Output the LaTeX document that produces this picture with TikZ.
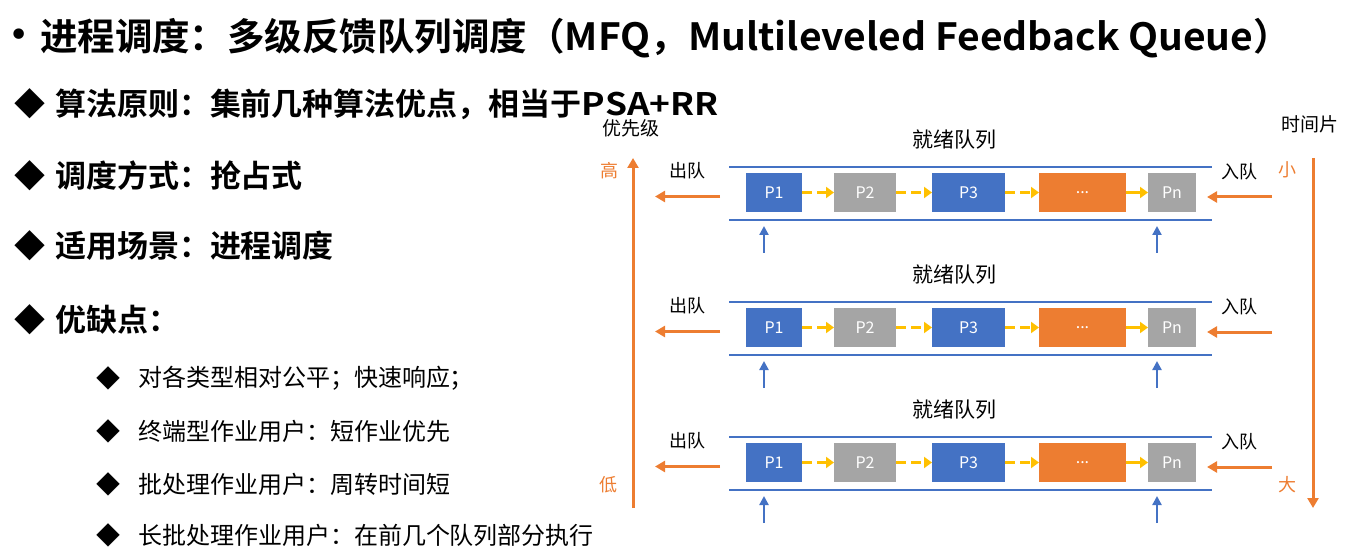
\documentclass[tikz,border=0pt]{standalone}
\usepackage{fontspec}
\setmainfont{Noto Sans CJK SC}[BoldFont={Noto Sans CJK SC Bold}]
\newfontfamily\symfont{DejaVu Sans}
\usetikzlibrary{arrows.meta}

\definecolor{qblue}{HTML}{4472C4}
\definecolor{qgray}{HTML}{A5A5A5}
\definecolor{qorange}{HTML}{ED7D31}
\definecolor{qyellow}{HTML}{FFC000}

\newcommand\fsz[1]{\fontsize{#1}{#1}\selectfont}
% widened Latin runs inside the bold headings
\newcommand\wide[2]{{\addfontfeatures{FakeStretch=#1}#2}}

\tikzset{
  txt/.style={inner sep=0pt, outer sep=0pt, text=black},
  lbl/.style={txt, font=\fsz{18}},
  side/.style={txt, font=\fsz{18}, text=qorange},
  proc/.style={inner sep=0pt, outer sep=0pt, minimum height=39pt, text=white, font=\fsz{16}},
  rail/.style={draw=qblue, line width=2.5pt},
  flow/.style={draw=qyellow, line width=3.5pt, -{Triangle[length=8pt,width=11pt]}},
  flowdash/.style={flow, dash pattern=on 10pt off 5pt},
  move/.style={draw=qorange, line width=3pt, -{Triangle[length=10pt,width=11pt]}},
  level/.style={draw=qorange, line width=3pt, -{Triangle[length=10pt,width=11pt]}},
  feed/.style={draw=qblue, line width=2.2pt, -{Triangle[length=9pt,width=9pt]}},
}

\begin{document}
\begin{tikzpicture}[x=1pt, y=-1pt]
\useasboundingbox (0,0) rectangle (1350,556);

% heading
\node[txt, font=\symfont\fsz{36}] (dot) at (19,38) {•};
\node[txt, anchor=west, font=\bfseries\fsz{37.5}] (title) at (40,38)
  {进程调度：多级反馈队列调度（\wide{1.04}{MFQ}，\wide{1.04}{Multileveled Feedback Queue}）};

% main points
\foreach \n/\y/\s in {a/104/{算法原则：集前几种算法优点，相当于\wide{1.14}{PSA+RR}},
                      b/176/{调度方式：抢占式},
                      c/246/{适用场景：进程调度},
                      d/320/{优缺点：}}{
  \node[txt, font=\fsz{31}] (bul-\n) at (30,\y) {◆};
  \node[txt, anchor=west, font=\bfseries\fsz{31}] (pt-\n) at (55,\y) {\s};
}

% sub points
\foreach \n/\y/\s in {a/378/{对各类型相对公平；快速响应；},
                      b/431/{终端型作业用户：短作业优先},
                      c/484/{批处理作业用户：周转时间短},
                      d/535/{长批处理作业用户：在前几个队列部分执行}}{
  \node[txt, font=\fsz{24}] (sbul-\n) at (108,\y) {◆};
  \node[txt, anchor=west, font=\fsz{24}] (spt-\n) at (138,\y) {\s};
}

% priority and time-slice axes
\node[lbl, font=\fsz{19}] (prio) at (631,128) {优先级};
\node[lbl, font=\fsz{19}] (slice) at (1310,124) {时间片};
\node[side] (hi) at (609,171) {高};
\node[side] (lo) at (608,485) {低};
\node[side] (small) at (1287,170) {小};
\node[side] (big) at (1287,485) {大};
\coordinate (prioB) at (633,508);
\coordinate (prioT) at (633,158);
\coordinate (sliceT) at (1313,158);
\coordinate (sliceB) at (1313,508);
\draw[level] (prioB) -- (prioT);
\draw[level] (sliceT) -- (sliceB);

% three ready queues
\foreach \r/\t in {1/167,2/302,3/437}{
  \node[txt, font=\fsz{21}] (ready-\r) at (954,\t-27) {就绪队列};
  \coordinate (railTL-\r) at (729,\t);
  \coordinate (railTR-\r) at (1212,\t);
  \coordinate (railBL-\r) at (729,\t+53);
  \coordinate (railBR-\r) at (1212,\t+53);
  \draw[rail] (railTL-\r) -- (railTR-\r);
  \draw[rail] (railBL-\r) -- (railBR-\r);
  \node[proc, fill=qblue,   minimum width=56pt] (p1-\r) at (774,\t+25.5) {P1};
  \node[proc, fill=qgray,   minimum width=62pt] (p2-\r) at (865,\t+25.5) {P2};
  \node[proc, fill=qblue,   minimum width=73pt] (p3-\r) at (968.5,\t+25.5) {P3};
  \node[proc, fill=qorange, minimum width=87pt] (pd-\r) at (1082.5,\t+25.5) {...};
  \node[proc, fill=qgray,   minimum width=48pt] (pn-\r) at (1172,\t+25.5) {Pn};
  \draw[flowdash] (p1-\r) -- (p2-\r);
  \draw[flowdash] (p2-\r) -- (p3-\r);
  \draw[flowdash] (p3-\r) -- (pd-\r);
  \draw[flow] (pd-\r) -- (pn-\r);
  \node[lbl] (out-\r) at (687,\t+4) {出队};
  \node[lbl] (in-\r) at (1239,\t+5) {入队};
  \coordinate (outS-\r) at (720,\t+29.5);
  \coordinate (outE-\r) at (655,\t+29.5);
  \draw[move] (outS-\r) -- (outE-\r);
  \coordinate (inS-\r) at (1272,\t+30);
  \coordinate (inE-\r) at (1207,\t+30);
  \draw[move] (inS-\r) -- (inE-\r);
  \coordinate (upA-\r) at (764,\t+86);
  \coordinate (upAt-\r) at (764,\t+59);
  \coordinate (upB-\r) at (1157,\t+86);
  \coordinate (upBt-\r) at (1157,\t+59);
  \draw[feed] (upA-\r) -- (upAt-\r);
  \draw[feed] (upB-\r) -- (upBt-\r);
}
\end{tikzpicture}
\end{document}
